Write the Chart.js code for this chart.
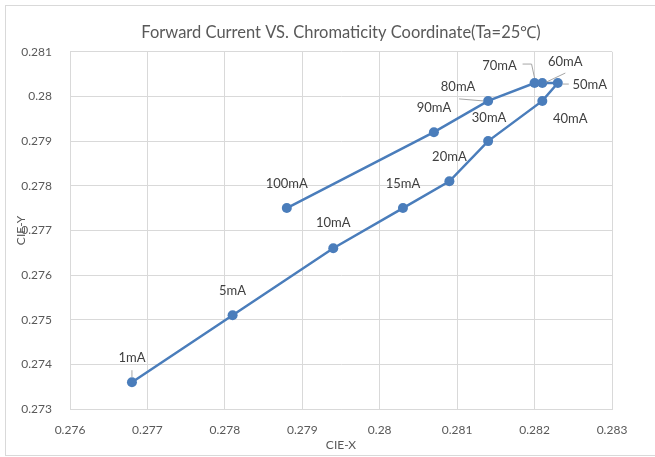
<!DOCTYPE html>
<html>
<head>
<meta charset="utf-8">
<script src="https://cdn.jsdelivr.net/npm/chart.js@4/dist/chart.umd.min.js"></script>
<style>
  body { margin: 0; background: #fff; }
  canvas { display: block; }
</style>
</head>
<body>
<canvas id="chart" width="655" height="457"></canvas>
<script>
// data
const currents = ['1mA', '5mA', '10mA', '15mA', '20mA', '30mA', '40mA', '50mA', '60mA', '70mA', '80mA', '90mA', '100mA'];
const cieX = [0.2768, 0.2781, 0.2794, 0.2803, 0.2809, 0.2814, 0.2821, 0.2823, 0.2821, 0.2820, 0.2814, 0.2807, 0.2788];
const cieY = [0.2736, 0.2751, 0.2766, 0.2775, 0.2781, 0.2790, 0.2799, 0.2803, 0.2803, 0.2803, 0.2799, 0.2792, 0.2775];

const xTickValues = [0.276, 0.277, 0.278, 0.279, 0.280, 0.281, 0.282, 0.283];
const xTickLabels = ['0.276', '0.277', '0.278', '0.279', '0.28', '0.281', '0.282', '0.283'];
const yTickValues = [0.273, 0.274, 0.275, 0.276, 0.277, 0.278, 0.279, 0.280, 0.281];
const yTickLabels = ['0.273', '0.274', '0.275', '0.276', '0.277', '0.278', '0.279', '0.28', '0.281'];

const FONT = 'Lato, "Open Sans", sans-serif';
const TEXT = '#595959';
const GRID = '#d9d9d9';
const BLUE = '#4a7dbb';

// where each label sits relative to its point, plus optional leader line
const labelPlace = {
    '1mA':   { dx: 0, dy: -24, leader: [[0, -12], [0, -5]] },
    '5mA':   { dx: 0, dy: -24 },
    '10mA':  { dx: 0, dy: -25 },
    '15mA':  { dx: 0, dy: -24 },
    '20mA':  { dx: 0, dy: -24 },
    '30mA':  { dx: 1, dy: -23 },
    '40mA':  { dx: 28, dy: 18 },
    '50mA':  { dx: 32, dy: 2, leader: [[5, 1], [11, 1]] },
    '60mA':  { dx: 23, dy: -21, leader: [[23, -10], [4, -1]] },
    '70mA':  { dx: -35, dy: -17, leader: [[-12, -19], [-3, -19], [0, -5]] },
    '80mA':  { dx: -30, dy: -14, leader: [[-29, -2], [-5, 0]] },
    '90mA':  { dx: 0, dy: -24 },
    '100mA': { dx: 0, dy: -24 }
};

const frame = {
    id: 'frame',
    beforeDraw(chart) {
        const ctx = chart.ctx;
        ctx.save();
        ctx.fillStyle = '#fff';
        ctx.fillRect(0, 0, chart.width, chart.height);
        ctx.strokeStyle = GRID;
        ctx.lineWidth = 1;
        ctx.strokeRect(5.5, 5.5, 700, 450);
        ctx.restore();
    }
};

const pointLabels = {
    id: 'pointLabels',
    afterDatasetsDraw(chart) {
        const ctx = chart.ctx;
        const meta = chart.getDatasetMeta(0);
        ctx.save();
        meta.data.forEach((pt, i) => {
            const p = labelPlace[currents[i]];
            if (p.leader) {
                ctx.strokeStyle = '#a6a6a6';
                ctx.lineWidth = 1;
                ctx.beginPath();
                p.leader.forEach(([lx, ly], k) => {
                    if (k === 0) ctx.moveTo(pt.x + lx, pt.y + ly);
                    else ctx.lineTo(pt.x + lx, pt.y + ly);
                });
                ctx.stroke();
            }
            ctx.fillStyle = '#404040';
            ctx.font = '13px ' + FONT;
            ctx.textAlign = 'center';
            ctx.textBaseline = 'middle';
            ctx.fillText(currents[i], pt.x + p.dx, pt.y + p.dy);
        });
        ctx.restore();
    }
};

new Chart(document.getElementById('chart'), {
    type: 'scatter',
    data: {
        datasets: [{
            data: cieX.map((x, i) => ({ x: x, y: cieY[i] })),
            showLine: true,
            borderColor: BLUE,
            backgroundColor: BLUE,
            borderWidth: 2.5,
            pointRadius: 5,
            pointBorderWidth: 0,
            tension: 0
        }]
    },
    options: {
        responsive: false,
        animation: false,
        layout: { padding: { left: 0, right: 43, top: 0, bottom: 0 } },
        plugins: {
            legend: { display: false },
            tooltip: { enabled: false },
            title: {
                display: true,
                fullSize: false,
                text: 'Forward Current VS. Chromaticity Coordinate(Ta=25\u2103)',
                color: TEXT,
                font: { family: FONT, size: 16.5, weight: 'normal' },
                padding: { top: 23, bottom: 9 }
            }
        },
        scales: {
            x: {
                type: 'linear',
                min: 0.276,
                max: 0.283,
                afterBuildTicks: s => { s.ticks = xTickValues.map(v => ({ value: v })); },
                afterFit: s => { s.height = 48; },
                ticks: {
                    callback: (v, i) => xTickLabels[i],
                    color: TEXT,
                    font: { family: FONT, size: 12 },
                    padding: 14,
                    maxRotation: 0,
                    autoSkip: false
                },
                grid: { color: GRID, drawTicks: false },
                border: { color: GRID },
                title: {
                    display: true,
                    text: 'CIE-X',
                    color: TEXT,
                    font: { family: FONT, size: 12 },
                    padding: { top: 0, bottom: 5 }
                }
            },
            y: {
                type: 'linear',
                min: 0.273,
                max: 0.281,
                afterBuildTicks: s => { s.ticks = yTickValues.map(v => ({ value: v })); },
                afterFit: s => { s.width = 70; },
                ticks: {
                    callback: (v, i) => yTickLabels[i],
                    color: TEXT,
                    font: { family: FONT, size: 12 },
                    padding: 18,
                    autoSkip: false
                },
                grid: { color: GRID, drawTicks: false },
                border: { color: GRID },
                title: {
                    display: true,
                    text: 'CIE-Y',
                    color: TEXT,
                    font: { family: FONT, size: 12 },
                    padding: { top: 14, bottom: 0 }
                }
            }
        }
    },
    plugins: [frame, pointLabels]
});
</script>
</body>
</html>
